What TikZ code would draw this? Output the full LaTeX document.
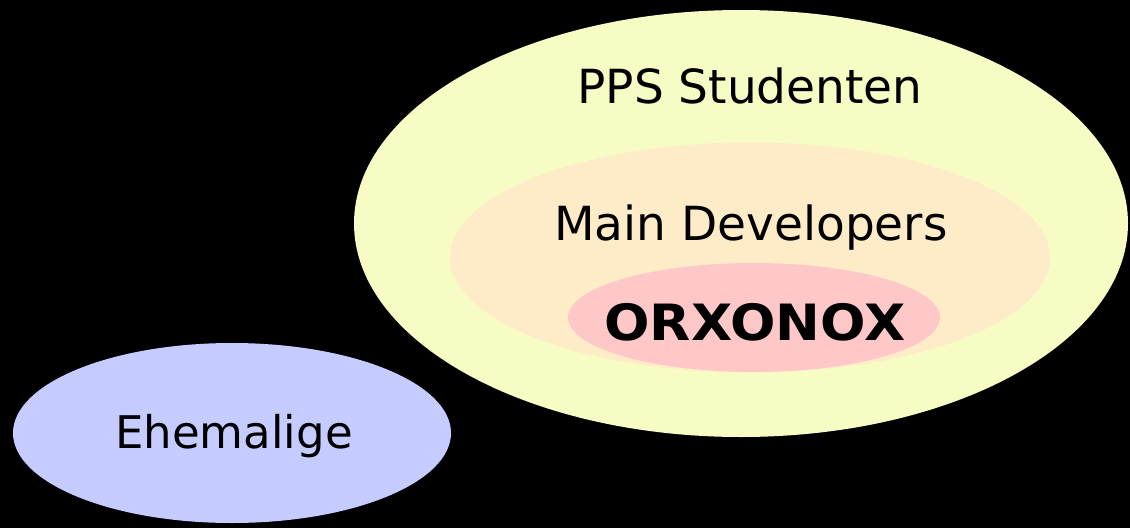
\documentclass[tikz,border=0pt]{standalone}
\usepackage{fontspec}
\setmainfont{DejaVu Sans}
\definecolor{ppsc}{RGB}{247,251,196}
\definecolor{devc}{RGB}{254,236,200}
\definecolor{orxc}{RGB}{255,200,200}
\definecolor{ehec}{RGB}{198,204,255}
\tikzset{
  lbl/.style={anchor=base, inner sep=0pt, text=black, font=\fontsize{47}{50}\selectfont},
  boldlbl/.style={anchor=base, inner sep=0pt, text=black, font=\fontsize{50}{54}\selectfont\bfseries}
}
\begin{document}
\begin{tikzpicture}[x=1pt,y=-1pt]
\fill[black] (0,0) rectangle (1130,528);
\useasboundingbox (0,0) rectangle (1130,528);
\fill[ppsc] (741,223.5) ellipse [x radius=387pt, y radius=213.5pt];
\fill[devc] (750,257.5) ellipse [x radius=300pt, y radius=115pt];
\fill[orxc] (754,317.5) ellipse [x radius=186pt, y radius=54.5pt];
\fill[ehec] (232,433) ellipse [x radius=219pt, y radius=90pt];
\node[lbl] (pps) at (750,103) {PPS Studenten};
\node[lbl] (dev) at (751,240) {Main Developers};
\node[boldlbl,xscale=1.07] (orx) at (755,340) {ORXONOX};
\node[lbl,font=\fontsize{45}{48}\selectfont] (ehe) at (234,448) {Ehemalige};
\end{tikzpicture}
\end{document}
